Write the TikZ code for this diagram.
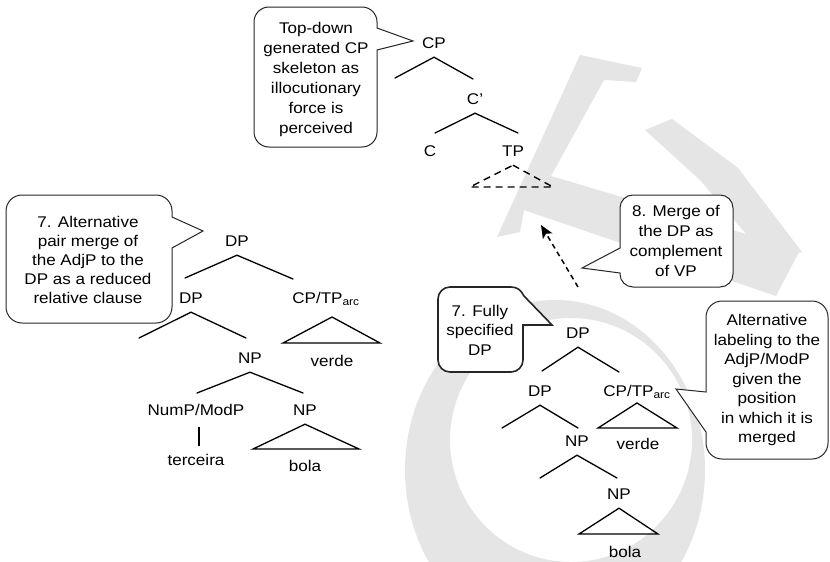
\documentclass[tikz,border=0pt]{standalone}
\usepackage{fontspec}
\setmainfont{Liberation Sans}[FakeStretch=1.1]
\usetikzlibrary{arrows.meta}
\begin{document}
\begin{tikzpicture}[x=1pt,y=-1pt,
  every node/.style={font=\fontsize{15.5}{20}\selectfont},
  tl/.style={inner sep=1pt, text height=11.5pt, text depth=8pt, anchor=base},
  lf/.style={inner sep=1pt, anchor=base},
  br/.style={line width=1.3pt, line cap=round},
  tri/.style={line width=1.3pt, line join=miter},
  dtri/.style={line width=1.4pt, dash pattern=on 7pt off 5pt},
  callout/.style={draw=black!85, line width=1pt, fill=white, line join=miter},
  thickcallout/.style={draw=black!85, line width=1.6pt, fill=white, line join=miter},
  ctext/.style={align=center, inner sep=0pt},
  wm/.style={fill=black!10, draw=none}
]
\useasboundingbox (0,0) rectangle (830,562);
\fill[white] (0,0) rectangle (830,562);

% ---------- watermark ----------
\fill[wm, even odd rule] (555,470) ellipse [x radius=150, y radius=170]
                         (571,440) ellipse [x radius=121, y radius=122];
\fill[wm] (580,55) -- (642,68) -- (636,82) -- (604,80) -- (551,176) -- (800,250)
  -- (776,296) -- (524,210) -- (520,232) -- (497,237) -- cycle;
\fill[wm] (645,130) -- (672,119) -- (738,168) -- (802,252) -- (770,262) -- (700,180) -- cycle;

% ---------- top tree (CP) ----------
\node[tl] (cp) at (434,48) {CP};
\coordinate (cpL) at (395,78);
\coordinate (cpR) at (473,79);
\node[tl] (cbar) at (475,104) {C’};
\node[tl] (c) at (430,156) {C};
\node[tl] (tp) at (513,156) {TP};
\coordinate (cbL) at (435,133);
\coordinate (cbR) at (518,133);
\coordinate (tpL) at (470,187);
\coordinate (tpR) at (553,187);
\draw[br] (cpL) -- (cp.south) -- (cpR);
\draw[br] (cbL) -- (cbar.south) -- (cbR);
\draw[dtri] (tp.south) -- (tpR) -- (tpL) -- cycle;

% ---------- left tree ----------
\node[tl] (ldp) at (237,246) {DP};
\coordinate (ldpL) at (185,278);
\coordinate (ldpR) at (293,279);
\node[tl] (ldp2) at (191,303) {DP};
\node[tl] (lcp) at (326,303) {CP/TP\textsubscript{arc}};
\draw[br] (ldpL) -- (ldp.south) -- (ldpR);
\coordinate (ldp2L) at (139,338);
\coordinate (ldp2R) at (246,338);
\draw[br] (ldp2L) -- (ldp2.south) -- (ldp2R);
\coordinate (lcpA) at (332,317);
\coordinate (lcpL) at (283,343);
\coordinate (lcpR) at (380,343);
\draw[tri] (lcpA) -- (lcpR) -- (lcpL) -- cycle;
\node[lf] (lverde) at (332,366) {verde};
\node[tl] (lnp) at (250,363) {NP};
\coordinate (lnpL) at (197,393);
\coordinate (lnpR) at (303,393);
\draw[br] (lnpL) -- (lnp.south) -- (lnpR);
\node[tl] (nump) at (196,415) {NumP/ModP};
\node[tl] (lnp2) at (305,415) {NP};
\node[lf] (terc) at (196,465) {terceira};
\draw[br, line cap=butt, shorten <=3pt, shorten >=7pt] ([xshift=3pt]nump.south) -- ([xshift=3pt]terc.north);
\coordinate (lnp2L) at (253,449);
\coordinate (lnp2R) at (359,449);
\draw[tri] (lnp2.south) -- (lnp2R) -- (lnp2L) -- cycle;
\node[lf] (lbola) at (305,471) {bola};

% ---------- right tree ----------
\node[tl] (rdp) at (578,338) {DP};
\coordinate (rdpL) at (542,371);
\coordinate (rdpR) at (619,372);
\draw[br] (rdpL) -- (rdp.south) -- (rdpR);
\node[tl] (rdp2) at (540,396) {DP};
\node[tl] (rcp) at (637,396) {CP/TP\textsubscript{arc}};
\coordinate (rdp2L) at (502,428);
\coordinate (rdp2R) at (578,428);
\draw[br] (rdp2L) -- (rdp2.south) -- (rdp2R);
\coordinate (rcpA) at (637,403);
\coordinate (rcpL) at (598,428);
\coordinate (rcpR) at (677,428);
\draw[tri] (rcpA) -- (rcpR) -- (rcpL) -- cycle;
\node[tl] (rnp) at (577,446) {NP};
\node[lf] (rverde) at (638,449) {verde};
\coordinate (rnpL) at (540,478);
\coordinate (rnpR) at (617,478);
\draw[br] (rnpL) -- (rnp.south) -- (rnpR);
\node[tl] (rnp2) at (619,499) {NP};
\coordinate (rnp2L) at (579,534);
\coordinate (rnp2R) at (658,534);
\draw[tri] (rnp2.south) -- (rnp2R) -- (rnp2L) -- cycle;
\node[lf] (rbola) at (625,557) {bola};

% ---------- merge arrow ----------
\coordinate (arrS) at (578,287);
\coordinate (arrE) at (541,225);
\draw[line width=1.5pt, dash pattern=on 5pt off 4pt, -{Stealth[length=13pt,width=11pt,inset=3pt]}] (arrS) -- (arrE);

% ---------- callouts ----------
% Top-down callout
\draw[callout] (413,41) -- (377,50) -- (377,132) .. controls (377,140.3) and (370.3,147) .. (362,147)
  -- (269,147) .. controls (260.7,147) and (254,140.3) .. (254,132)
  -- (254,22) .. controls (254,13.7) and (260.7,7) .. (269,7)
  -- (362,7) .. controls (370.3,7) and (377,13.7) .. (377,22)
  -- (377,28) -- cycle;
\node[ctext] (c1) at (316,79) {Top-down\\generated CP\\skeleton as\\illocutionary\\force is\\perceived};

% Alternative pair merge callout
\draw[callout] (203,231) -- (172,248) -- (172,307) .. controls (172,315.8) and (164.8,323) .. (156,323)
  -- (22,323) .. controls (13.2,323) and (6,315.8) .. (6,307)
  -- (6,211) .. controls (6,202.2) and (13.2,195) .. (22,195)
  -- (156,195) .. controls (164.8,195) and (172,202.2) .. (172,211)
  -- (172,217) -- cycle;
\node[ctext, font=\fontsize{15.5}{19}\selectfont] (c2) at (88,260) {7. Alternative\\pair merge of\\the AdjP to the\\DP as a reduced\\relative clause};

% Merge of the DP callout
\draw[callout] (582,268) -- (620,273) -- (620,274) .. controls (620,281.2) and (625.8,287) .. (633,287)
  -- (720,287) .. controls (727.2,287) and (733,281.2) .. (733,274)
  -- (733,208) .. controls (733,200.8) and (727.2,195) .. (720,195)
  -- (633,195) .. controls (625.8,195) and (620,200.8) .. (620,208)
  -- (620,248) -- cycle;
\node[ctext] (c8) at (676,241) {8. Merge of\\the DP as\\complement\\of VP};

% Fully specified DP callout (thicker outline)
\draw[thickcallout] (552,325) -- (523,325) -- (523,360) .. controls (523,366.6) and (517.6,372) .. (511,372)
  -- (450,372) .. controls (443.4,372) and (438,366.6) .. (438,360)
  -- (438,299) .. controls (438,292.4) and (443.4,287) .. (450,287)
  -- (511,287) .. controls (517,287) and (521,290) .. (524,296) -- cycle;
\node[ctext, font=\fontsize{15.5}{19.5}\selectfont] (c7) at (480,330) {7. Fully\\specified\\DP};

% Alternative labeling callout
\draw[callout] (676,389) -- (706,432) -- (706,443) .. controls (706,451.8) and (713.2,459) .. (722,459)
  -- (812,459) .. controls (820.8,459) and (828,451.8) .. (828,443)
  -- (828,317) .. controls (828,308.2) and (820.8,301) .. (812,301)
  -- (722,301) .. controls (713.2,301) and (706,308.2) .. (706,317)
  -- (706,392) -- cycle;
\node[ctext, font=\fontsize{15.5}{19.5}\selectfont] (ca) at (767,380) {Alternative\\labeling to the\\AdjP/ModP\\given the\\position\\in which it is\\merged};
\end{tikzpicture}
\end{document}
